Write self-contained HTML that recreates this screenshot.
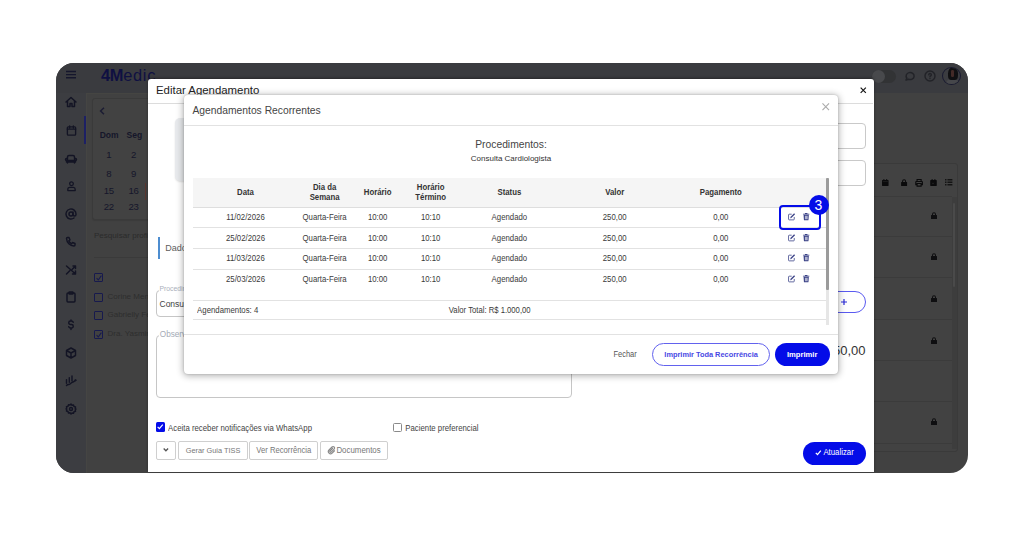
<!DOCTYPE html>
<html><head><meta charset="utf-8">
<style>
*{box-sizing:border-box;margin:0;padding:0}
html,body{width:1024px;height:537px;overflow:hidden;background:#fff}
body{position:relative;font-family:"Liberation Sans",sans-serif;color:#333}
.a{position:absolute}
.t{position:absolute;white-space:nowrap;line-height:1}
.c{transform:translateX(-50%)}
svg{position:absolute;overflow:visible}
#frame{left:56px;top:63px;width:912px;height:409.5px;border-radius:18px;overflow:hidden;background:#414141}
#hdr{left:0;top:0;width:912px;height:30px;background:#3a3b3f}
#side{left:0;top:30px;width:29.5px;height:380px;background:#3c3d41}
.ic{stroke:#131424;fill:none;stroke-width:2.9;stroke-linecap:round;stroke-linejoin:round}
#modal{left:92px;top:16px;width:726.5px;height:420px;background:#fff;border-radius:3px}
#dlg{left:184px;top:94.5px;width:654px;height:279px;background:#fff;border-radius:4px;box-shadow:0 1px 7px 1px rgba(0,0,0,.3),0 0 2px rgba(0,0,0,.2)}
.hl{position:absolute;height:1px;background:#e2e2e2}
.th{font-weight:bold;font-size:7.8px;color:#333}
.td{font-size:7.8px;color:#3a3a3a;transform:scaleY(1.09)}
.c.td,.c.th{transform:translateX(-50%) scaleY(1.09)}
.th{transform:scaleY(1.09)}
.sy{transform:scaleY(1.1)}
.c.sy{transform:translateX(-50%) scaleY(1.1)}
.dk{color:#15162a}
.cb{position:absolute;width:9.3px;height:9.3px;border:1.2px solid #171a4e;border-radius:1px}
.lk{position:absolute;width:7px;height:7px}
</style></head><body>

<svg width="0" height="0" style="position:absolute"><defs>
<g id="ed"><path d="M8 2.5H2.7A1.5 1.5 0 0 0 1.2 4v9.3a1.5 1.5 0 0 0 1.5 1.5H12a1.5 1.5 0 0 0 1.5-1.5V8.5" fill="none" stroke="#3b4287" stroke-width="1.7"/><path d="M6.2 9.8L14.3 1.7" stroke="#3b4287" stroke-width="2.8"/><path d="M4.6 11.4l.9-2.6 1.7 1.7z" fill="#3b4287"/></g>
<g id="tr" fill="#3b4287"><path d="M4.5 0h5l.5 1.5H13.5a.5.5 0 0 1 0 1.5H.5a.5.5 0 0 1 0-1.5H4z"/><path d="M1.2 4h11.6l-.8 11a1.2 1.2 0 0 1-1.2 1H3.2A1.2 1.2 0 0 1 2 15zM4.3 6v7.5h1.2V6zM6.4 6v7.5h1.2V6zM8.5 6v7.5h1.2V6z" fill-rule="evenodd"/></g>
</defs></svg>
<div id="frame" class="a">
  <div id="hdr" class="a">
    <!-- hamburger -->
    <svg style="left:9px;top:5.2px" width="12" height="12" viewBox="0 0 12 12"><path d="M1 3.5H11M1 6.6H11M1 9.7H11" stroke="#15162c" stroke-width="1.4"/></svg>
    <div class="t" style="left:45px;top:3.6px;font-size:16.4px;color:#0f1042;letter-spacing:0.7px"><b style="letter-spacing:-0.3px">4M</b>edic</div>
    <!-- toggle -->
    <div class="a" style="left:816px;top:7px;width:24px;height:13px;border-radius:7px;background:#323335"></div>
    <div class="a" style="left:816px;top:7px;width:13px;height:13px;border-radius:50%;background:#48494c"></div>
    <!-- chat -->
    <svg style="left:848px;top:7px" width="12" height="12" viewBox="0 0 24 24"><path class="ic" style="stroke:#222328" d="M4 20l1.6-4A8 7 0 1 1 9 18.5z"/></svg>
    <!-- help -->
    <svg style="left:867.5px;top:7px" width="12" height="12" viewBox="0 0 24 24"><circle class="ic" style="stroke:#222328" cx="12" cy="12" r="10"/><path class="ic" style="stroke:#222328" d="M9.5 9.5a2.6 2.6 0 1 1 3.5 2.4c-.7.3-1 .8-1 1.6M12 17v.2"/></svg>
    <!-- avatar -->
    <div class="a" style="left:886.2px;top:3.7px;width:19px;height:18.4px;border-radius:50%;border:1px solid #191a30;background:#3b3c40;overflow:hidden">
      <div class="a" style="left:2.5px;top:11.5px;width:13px;height:8px;border-radius:5px 5px 0 0;background:#46474b"></div>
      <div class="a" style="left:5px;top:-0.5px;width:9.6px;height:13px;border-radius:50% 50% 35% 35%;background:#101012"></div>
      <div class="a" style="left:8.2px;top:2.6px;width:2.6px;height:7px;border-radius:1.3px;background:#432a27"></div>
    </div>
  </div>
  <div class="a" style="left:29.5px;top:30px;width:1.2px;height:380px;background:#454543"></div>
  <div class="a" style="left:29.5px;top:30px;width:63px;height:1px;background:#454542"></div>
  <div id="side" class="a">
    <div class="a" style="left:28px;top:23px;width:2px;height:28px;background:#1d2065"></div>
  </div>
  <!-- sidebar icons (positions relative to frame) -->
  <svg style="left:9px;top:33px" width="12" height="12" viewBox="0 0 24 24"><path class="ic" d="M2 12L12 3l10 9M5 10v11h5v-6h4v6h5V10"/></svg>
  <svg style="left:9.5px;top:62px" width="11" height="11" viewBox="0 0 24 24"><rect class="ic" x="3" y="4" width="18" height="18" rx="2"/><path class="ic" d="M3 9h18M8 2v4M16 2v4"/></svg>
  <svg style="left:9px;top:89.5px" width="12" height="12" viewBox="0 0 24 24"><path class="ic" d="M5 11V8a3 3 0 0 1 3-3h8a3 3 0 0 1 3 3v3M3 11a2 2 0 0 1 2 2v2h14v-2a2 2 0 1 1 2 2v3H3v-3a2 2 0 0 1 0-4zM5 18v2M19 18v2"/></svg>
  <svg style="left:9.5px;top:117px" width="11" height="12" viewBox="0 0 24 24"><circle class="ic" cx="12" cy="7" r="4"/><path class="ic" d="M4 22v-3a4 4 0 0 1 4-4h8a4 4 0 0 1 4 4v3z"/></svg>
  <svg style="left:9px;top:144.5px" width="12" height="12" viewBox="0 0 24 24"><circle class="ic" cx="12" cy="12" r="4"/><path class="ic" d="M16 8v5a3 3 0 0 0 6 0v-1a10 10 0 1 0-4 8"/></svg>
  <svg style="left:9px;top:173px" width="12" height="12" viewBox="0 0 24 24"><path class="ic" d="M5 3h3l2 5-2.5 1.5a11 11 0 0 0 6 6L15 13l5 2v3a2 2 0 0 1-2 2A16 16 0 0 1 3 5a2 2 0 0 1 2-2"/></svg>
  <svg style="left:9px;top:200.5px" width="12" height="12" viewBox="0 0 24 24"><path class="ic" d="M3 4l18 16M21 20v-6M21 20h-6M3 20L9.5 13.5M14.5 10.5L21 4M21 4h-5M21 4v5"/></svg>
  <svg style="left:9px;top:228px" width="12" height="12" viewBox="0 0 24 24"><rect class="ic" x="4" y="4" width="16" height="18" rx="2"/><rect class="ic" x="8" y="2" width="8" height="4" rx="1"/></svg>
  <svg style="left:9px;top:255.5px" width="12" height="12" viewBox="0 0 24 24"><path class="ic" d="M16.5 6.5A4 3.5 0 0 0 12.5 4h-1.5a3.5 3.5 0 0 0 0 7h2a3.5 3.5 0 0 1 0 7h-1.5a4 3.5 0 0 1-4-2.5M12 2v2M12 18v3"/></svg>
  <svg style="left:9px;top:283.5px" width="12" height="12" viewBox="0 0 24 24"><path class="ic" d="M12 2l9 5v10l-9 5-9-5V7zM3 7l9 5 9-5M12 12v10"/></svg>
  <svg style="left:9px;top:312px" width="12" height="12" viewBox="0 0 24 24"><path class="ic" d="M3 9.5v7M8.6 5.5v9M14 2v9.5M3 21c3-3 4.5-1 7-3s3.5-3.5 6-4 3.5-2.5 5.5-3.5"/><circle cx="21" cy="10.5" r="2" fill="#141526"/></svg>
  <svg style="left:9px;top:339.5px" width="12" height="12" viewBox="0 0 24 24"><circle class="ic" cx="12" cy="12" r="3"/><path class="ic" d="M12 2l2 2.5 3-.5 1 3 3 1-.5 3L22 12l-1.5 1.5.5 3-3 1-1 3-3-.5L12 22l-2-2.5-3 .5-1-3-3-1 .5-3L2 12l1.5-1.5-.5-3 3-1 1-3 3 .5z"/></svg>

  <!-- calendar card -->
  <div class="a" style="left:35.6px;top:35.3px;width:71px;height:122px;background:#424242;border:1px solid #3a3a3a;border-radius:3px;box-shadow:0 1px 1px rgba(0,0,0,.1)"></div>
  <svg style="left:43px;top:43.5px" width="7" height="8" viewBox="0 0 7 8"><path d="M5 .8L1.6 4 5 7.2" stroke="#1b1c33" stroke-width="1.5" fill="none"/></svg>
  <div class="t dk" style="left:43.7px;top:67.5px;font-size:8.5px;font-weight:bold">Dom</div>
  <div class="t dk" style="left:70.6px;top:67.5px;font-size:8.5px;font-weight:bold">Seg</div>
  <div class="t dk c" style="left:52.7px;top:87.4px;font-size:9.6px;letter-spacing:-0.3px">1</div>
  <div class="t dk c" style="left:77.5px;top:87.4px;font-size:9.6px;letter-spacing:-0.3px">2</div>
  <div class="t dk c" style="left:52.7px;top:105.8px;font-size:9.6px;letter-spacing:-0.3px">8</div>
  <div class="t dk c" style="left:77.5px;top:105.8px;font-size:9.6px;letter-spacing:-0.3px">9</div>
  <div class="t dk c" style="left:52.7px;top:122.5px;font-size:9.6px;letter-spacing:-0.3px">15</div>
  <div class="t dk c" style="left:77.5px;top:122.5px;font-size:9.6px;letter-spacing:-0.3px">16</div>
  <div class="t dk c" style="left:52.7px;top:139.2px;font-size:9.6px;letter-spacing:-0.3px">22</div>
  <div class="t dk c" style="left:77.5px;top:139.2px;font-size:9.6px;letter-spacing:-0.3px">23</div>
  <div class="a" style="left:88.5px;top:120px;width:1.2px;height:17px;background:#5a3630"></div>
  <!-- search & list -->
  <div class="t" style="left:37.9px;top:169.2px;font-size:8.1px;color:#2b2b2b">Pesquisar profissional</div>
  <div class="a" style="left:37.5px;top:193.7px;width:60px;height:1px;background:#3a3a3a"></div>
  <div class="cb" style="left:37.5px;top:210px"></div>
  <svg style="left:39.5px;top:212px" width="6" height="6" viewBox="0 0 6 6"><path d="M.6 3.2L2.3 5 5.4.6" stroke="#171a4e" stroke-width="1.1" fill="none"/></svg>
  <div class="cb" style="left:37.5px;top:229.5px"></div>
  <div class="t" style="left:51.5px;top:229.5px;font-size:8px;color:#2e2e2e">Corine Mendes</div>
  <div class="cb" style="left:37.5px;top:248px"></div>
  <div class="t" style="left:51.5px;top:248px;font-size:8px;color:#2e2e2e">Gabrielly Ferreira</div>
  <div class="cb" style="left:37.5px;top:266.5px"></div>
  <svg style="left:39.5px;top:268.5px" width="6" height="6" viewBox="0 0 6 6"><path d="M.6 3.2L2.3 5 5.4.6" stroke="#171a4e" stroke-width="1.1" fill="none"/></svg>
  <div class="t" style="left:51.5px;top:266.5px;font-size:8px;color:#2e2e2e">Dra. Yasmin</div>

  <!-- right background card -->
  <div class="a" style="left:814px;top:99.5px;width:88px;height:289px;border:1px solid #3a3a3a;border-radius:3px;background:#424242"></div>
  <div class="a" style="left:814px;top:132.5px;width:82px;height:1px;background:#3b3b3b"></div>
  <div class="a" style="left:814px;top:173.3px;width:82px;height:1px;background:#3b3b3b"></div>
  <div class="a" style="left:814px;top:214.3px;width:82px;height:1px;background:#3b3b3b"></div>
  <div class="a" style="left:814px;top:256px;width:82px;height:1px;background:#3b3b3b"></div>
  <div class="a" style="left:814px;top:297.3px;width:82px;height:1px;background:#3b3b3b"></div>
  <div class="a" style="left:814px;top:338.3px;width:82px;height:1px;background:#3b3b3b"></div>
  <div class="a" style="left:814px;top:379.5px;width:82px;height:1px;background:#3b3b3b"></div>
  <!-- right toolbar icons -->
  <svg style="left:825.7px;top:116px" width="6.6" height="7" viewBox="0 0 14 15"><path fill="#0a0a0b" d="M3 0h2v2h4V0h2v2h2a1 1 0 0 1 1 1v11a1 1 0 0 1-1 1H1a1 1 0 0 1-1-1V3a1 1 0 0 1 1-1h2z"/><path fill="#2a2a2a" d="M1.5 5h11v.8h-11z"/></svg>
  <svg style="left:845px;top:116px" width="6.2" height="7" viewBox="0 0 12 14"><path fill="#0a0a0b" d="M2 6V4.5a4 4 0 0 1 8 0V6h-2V4.5a2 2 0 0 0-4 0V6zM1 6h10a1 1 0 0 1 1 1v6a1 1 0 0 1-1 1H1a1 1 0 0 1-1-1V7a1 1 0 0 1 1-1z"/></svg>
  <svg style="left:858.6px;top:115.7px" width="8.2" height="7.6" viewBox="0 0 16 15"><path fill="none" stroke="#0a0a0b" stroke-width="2.2" d="M4 5V1h8v4M4 11H1.5V6a1 1 0 0 1 1-1h11a1 1 0 0 1 1 1v5H12M4 9h8v5H4z"/></svg>
  <svg style="left:873.7px;top:116px" width="7" height="7" viewBox="0 0 14 15"><path fill="#0a0a0b" d="M3 0h2v2h4V0h2v2h2a1 1 0 0 1 1 1v11a1 1 0 0 1-1 1H1a1 1 0 0 1-1-1V3a1 1 0 0 1 1-1h2z"/><path stroke="#333" stroke-width="1.2" d="M4.5 8l3 3M7.5 8l-3 3"/></svg>
  <svg style="left:889.3px;top:116.3px" width="7.4" height="6.4" viewBox="0 0 15 13"><path fill="#141414" d="M0 0h3v3H0zM5 0h10v3H5zM0 5h3v3H0zM5 5h10v3H5zM0 10h3v3H0zM5 10h10v3H5z"/></svg>
  <!-- locks -->
  <svg style="left:874.5px;top:148.8px" width="6" height="7" viewBox="0 0 12 14"><path fill="#0e0e10" d="M2 6V4.5a4 4 0 0 1 8 0V6h-2V4.5a2 2 0 0 0-4 0V6zM1 6h10a1 1 0 0 1 1 1v6a1 1 0 0 1-1 1H1a1 1 0 0 1-1-1V7a1 1 0 0 1 1-1z"/></svg>
  <svg style="left:874.5px;top:190.0px" width="6" height="7" viewBox="0 0 12 14"><path fill="#0e0e10" d="M2 6V4.5a4 4 0 0 1 8 0V6h-2V4.5a2 2 0 0 0-4 0V6zM1 6h10a1 1 0 0 1 1 1v6a1 1 0 0 1-1 1H1a1 1 0 0 1-1-1V7a1 1 0 0 1 1-1z"/></svg>
  <svg style="left:874.5px;top:231.7px" width="6" height="7" viewBox="0 0 12 14"><path fill="#0e0e10" d="M2 6V4.5a4 4 0 0 1 8 0V6h-2V4.5a2 2 0 0 0-4 0V6zM1 6h10a1 1 0 0 1 1 1v6a1 1 0 0 1-1 1H1a1 1 0 0 1-1-1V7a1 1 0 0 1 1-1z"/></svg>
  <svg style="left:874.5px;top:273.7px" width="6" height="7" viewBox="0 0 12 14"><path fill="#0e0e10" d="M2 6V4.5a4 4 0 0 1 8 0V6h-2V4.5a2 2 0 0 0-4 0V6zM1 6h10a1 1 0 0 1 1 1v6a1 1 0 0 1-1 1H1a1 1 0 0 1-1-1V7a1 1 0 0 1 1-1z"/></svg>
  <svg style="left:874.5px;top:354.9px" width="6" height="7" viewBox="0 0 12 14"><path fill="#0e0e10" d="M2 6V4.5a4 4 0 0 1 8 0V6h-2V4.5a2 2 0 0 0-4 0V6zM1 6h10a1 1 0 0 1 1 1v6a1 1 0 0 1-1 1H1a1 1 0 0 1-1-1V7a1 1 0 0 1 1-1z"/></svg>
  <!-- scrollbar -->
  <div class="a" style="left:895.5px;top:134px;width:5px;height:252px;background:#3d3d3d"></div>
  <div class="a" style="left:896.8px;top:140px;width:2.5px;height:84px;background:#4a4a4a;border-radius:1px"></div>
</div>

<div id="modal" class="a" style="left:148px;top:79px;width:726px;height:393px;border-radius:3px 3px 0 0;box-shadow:0 -1px 3px rgba(0,0,0,.35)">
  <div class="t" style="left:8px;top:5.8px;font-size:11.4px;color:#222">Editar Agendamento</div>
  <svg style="left:711.5px;top:8px" width="6.5" height="6.5" viewBox="0 0 8 8"><path d="M.8 .8l6.4 6.4M7.2 .8L.8 7.2" stroke="#151515" stroke-width="1.45"/></svg>
  <div class="hl" style="left:0;top:24px;width:725px;background:#dcdcdc"></div>
  <!-- patient card -->
  <div class="a" style="left:27.3px;top:39.2px;width:120px;height:63px;background:#e8eaed;border-radius:5px;box-shadow:0 1px 2px rgba(0,0,0,.12)"></div>
  <!-- right inputs -->
  <div class="a" style="left:600px;top:43.7px;width:117.8px;height:26.1px;border:1px solid #c9c9c9;border-radius:4px"></div>
  <div class="a" style="left:600px;top:81px;width:117.8px;height:26.2px;border:1px solid #c9c9c9;border-radius:4px"></div>
  <!-- Dados tab -->
  <div class="a" style="left:9.8px;top:158px;width:2px;height:21.5px;background:#4d8dd0"></div>
  <div class="t" style="left:17.2px;top:165.4px;font-size:9px;color:#5e5e5e">Dados do Agendamento</div>
  <!-- procedimento fieldset -->
  <div class="a" style="left:7.6px;top:210.6px;width:420px;height:27.4px;border:1px solid #c6c6c6;border-radius:4px"></div>
  <div class="t" style="left:10.5px;top:207.2px;font-size:6.8px;color:#aab0bb;background:#fff;padding:0 1px">Procedimento</div>
  <div class="t sy" style="left:11.5px;top:220.6px;font-size:8.5px;color:#444">Consulta Cardiologista</div>
  <div class="a" style="left:640px;top:211.8px;width:78.2px;height:22.7px;border:1.2px solid #5a5af0;border-radius:12px"></div>
  <svg style="left:692.5px;top:220.1px" width="6" height="6" viewBox="0 0 6 6"><path d="M3 0v6M0 3h6" stroke="#2a2ad8" stroke-width="1.2"/></svg>
  <!-- valor -->
  <div class="t" style="right:8.5px;top:264.8px;font-size:13px;color:#333">250,00</div>
  <!-- observacoes -->
  <div class="a" style="left:7.5px;top:256px;width:416px;height:63px;border:1px solid #c6c6c6;border-radius:4px"></div>
  <div class="t" style="left:10.8px;top:251.7px;font-size:8.2px;color:#a4abb6;background:#fff;padding:0 1px">Observações</div>
  <!-- checkboxes -->
  <div class="a" style="left:7.8px;top:343.4px;width:9.2px;height:9.2px;background:#040ce8;border-radius:1.5px"></div>
  <svg style="left:9.3px;top:345.3px" width="6.4" height="5.6" viewBox="0 0 8 7"><path d="M.8 3.6L3 5.8 7.2 .9" stroke="#fff" stroke-width="1.5" fill="none"/></svg>
  <div class="t sy" style="left:20.1px;top:345.8px;font-size:7.8px;color:#444">Aceita receber notificações via WhatsApp</div>
  <div class="a" style="left:244.6px;top:343.8px;width:9.2px;height:9px;border:1px solid #8a8a8a;border-radius:1.5px"></div>
  <div class="t sy" style="left:257.3px;top:345.8px;font-size:7.8px;color:#444">Paciente preferencial</div>
  <!-- buttons -->
  <div class="a" style="left:8px;top:362.4px;width:20.4px;height:18.4px;border:1px solid #cfcfcf;border-radius:2px"></div>
  <svg style="left:15px;top:369.3px" width="5.8" height="3.7" viewBox="0 0 6 4"><path d="M.6 .6L3 3 5.4 .6" stroke="#555" stroke-width="1.4" fill="none"/></svg>
  <div class="a" style="left:30px;top:362.4px;width:69.5px;height:18.4px;border:1px solid #cfcfcf;border-radius:2px"></div>
  <div class="t c sy" style="left:65px;top:367.6px;font-size:7.35px;color:#777">Gerar Guia TISS</div>
  <div class="a" style="left:101px;top:362.4px;width:69.4px;height:18.4px;border:1px solid #cfcfcf;border-radius:2px"></div>
  <div class="t c sy" style="left:135.8px;top:367.6px;font-size:7.7px;color:#777">Ver Recorrência</div>
  <div class="a" style="left:172.4px;top:362.4px;width:67.3px;height:18.4px;border:1px solid #cfcfcf;border-radius:2px"></div>
  <svg style="left:179.7px;top:367.4px" width="6" height="8" viewBox="0 0 12 16"><path d="M9.5 4.5L4 10a1.6 1.6 0 0 0 2.3 2.3l6-6a3 3 0 0 0-4.3-4.3L2 8a4.4 4.4 0 0 0 6.3 6.3L13 9.5" stroke="#888" stroke-width="2.2" fill="none" stroke-linecap="round"/></svg>
  <div class="t sy" style="left:188.4px;top:367.6px;font-size:7.9px;color:#777">Documentos</div>
  <!-- atualizar -->
  <div class="a" style="left:654.7px;top:362.7px;width:63.6px;height:22.9px;background:#040ce8;border-radius:12px"></div>
  <svg style="left:666.6px;top:371px" width="6.6" height="5.5" viewBox="0 0 8 7"><path d="M.8 3.6L3 5.8 7.2 .9" stroke="#fff" stroke-width="1.6" fill="none"/></svg>
  <div class="t sy" style="left:675.4px;top:370.2px;font-size:7.8px;color:#fff">Atualizar</div>
</div>

<div id="dlg" class="a">
  <div class="t" style="left:8.5px;top:11.3px;font-size:10.3px;color:#444">Agendamentos Recorrentes</div>
  <svg style="left:638px;top:8.8px" width="7.5" height="7.5" viewBox="0 0 8 8"><path d="M.5 .5l7 7M7.5 .5l-7 7" stroke="#ababab" stroke-width="1.2"/></svg>
  <div class="hl" style="left:0;top:30.5px;width:654px"></div>
  <div class="t c" style="left:327px;top:45.7px;font-size:10.3px;color:#444">Procedimentos:</div>
  <div class="t c" style="left:327px;top:60px;font-size:8px;color:#333">Consulta Cardiologista</div>
  <!-- table -->
  <div class="a" style="left:9.2px;top:83.5px;width:632.7px;height:29.1px;background:#f5f5f5"></div>
  <div class="hl" style="left:9.2px;top:112.2px;width:632.7px;background:#dedede"></div>
  <div class="hl" style="left:9.2px;top:132.4px;width:632.7px"></div>
  <div class="hl" style="left:9.2px;top:153.6px;width:632.7px"></div>
  <div class="hl" style="left:9.2px;top:174.5px;width:632.7px"></div>
  <div class="hl" style="left:9.2px;top:205.4px;width:632.7px"></div>
  <div class="hl" style="left:9.2px;top:224.5px;width:632.7px"></div>
  <div class="t c th" style="left:61.5px;top:94.4px">Data</div>
  <div class="t c th" style="left:140.6px;top:89.1px">Dia da</div>
  <div class="t c th" style="left:140.6px;top:99.8px">Semana</div>
  <div class="t c th" style="left:193.7px;top:94.4px">Horário</div>
  <div class="t c th" style="left:246.7px;top:89.1px">Horário</div>
  <div class="t c th" style="left:246.7px;top:99.8px">Término</div>
  <div class="t c th" style="left:325.4px;top:94.4px">Status</div>
  <div class="t c th" style="left:430.7px;top:94.4px">Valor</div>
  <div class="t c th" style="left:536.8px;top:94.4px">Pagamento</div>
  <div class="t c td" style="left:61.5px;top:119.7px">11/02/2026</div>
  <div class="t c td" style="left:140.6px;top:119.7px">Quarta-Feira</div>
  <div class="t c td" style="left:193.7px;top:119.7px">10:00</div>
  <div class="t c td" style="left:246.7px;top:119.7px">10:10</div>
  <div class="t c td" style="left:325.4px;top:119.7px">Agendado</div>
  <div class="t c td" style="left:430.7px;top:119.7px">250,00</div>
  <div class="t c td" style="left:536.8px;top:119.7px">0,00</div>
  <svg style="left:604.2px;top:118.4px" width="7.4" height="7" viewBox="0 0 16 15"><use href="#ed"/></svg>
  <svg style="left:618.9px;top:118.2px" width="6.4" height="7.4" viewBox="0 0 14 16"><use href="#tr"/></svg>
  <div class="t c td" style="left:61.5px;top:140.7px">25/02/2026</div>
  <div class="t c td" style="left:140.6px;top:140.7px">Quarta-Feira</div>
  <div class="t c td" style="left:193.7px;top:140.7px">10:00</div>
  <div class="t c td" style="left:246.7px;top:140.7px">10:10</div>
  <div class="t c td" style="left:325.4px;top:140.7px">Agendado</div>
  <div class="t c td" style="left:430.7px;top:140.7px">250,00</div>
  <div class="t c td" style="left:536.8px;top:140.7px">0,00</div>
  <svg style="left:604.2px;top:139.4px" width="7.4" height="7" viewBox="0 0 16 15"><use href="#ed"/></svg>
  <svg style="left:618.9px;top:139.2px" width="6.4" height="7.4" viewBox="0 0 14 16"><use href="#tr"/></svg>
  <div class="t c td" style="left:61.5px;top:160.6px">11/03/2026</div>
  <div class="t c td" style="left:140.6px;top:160.6px">Quarta-Feira</div>
  <div class="t c td" style="left:193.7px;top:160.6px">10:00</div>
  <div class="t c td" style="left:246.7px;top:160.6px">10:10</div>
  <div class="t c td" style="left:325.4px;top:160.6px">Agendado</div>
  <div class="t c td" style="left:430.7px;top:160.6px">250,00</div>
  <div class="t c td" style="left:536.8px;top:160.6px">0,00</div>
  <svg style="left:604.2px;top:159.9px" width="7.4" height="7" viewBox="0 0 16 15"><use href="#ed"/></svg>
  <svg style="left:618.9px;top:159.7px" width="6.4" height="7.4" viewBox="0 0 14 16"><use href="#tr"/></svg>
  <div class="t c td" style="left:61.5px;top:181.7px">25/03/2026</div>
  <div class="t c td" style="left:140.6px;top:181.7px">Quarta-Feira</div>
  <div class="t c td" style="left:193.7px;top:181.7px">10:00</div>
  <div class="t c td" style="left:246.7px;top:181.7px">10:10</div>
  <div class="t c td" style="left:325.4px;top:181.7px">Agendado</div>
  <div class="t c td" style="left:430.7px;top:181.7px">250,00</div>
  <div class="t c td" style="left:536.8px;top:181.7px">0,00</div>
  <svg style="left:604.2px;top:180.4px" width="7.4" height="7" viewBox="0 0 16 15"><use href="#ed"/></svg>
  <svg style="left:618.9px;top:180.2px" width="6.4" height="7.4" viewBox="0 0 14 16"><use href="#tr"/></svg>
  <div class="t td" style="left:13.1px;top:212.1px">Agendamentos: 4</div>
  <div class="t td" style="left:264.8px;top:212.1px;font-size:7.7px">Valor Total: R$ 1.000,00</div>
  <!-- scrollbar -->
  <div class="a" style="left:642.3px;top:83px;width:2.6px;height:147.5px;background:#e6e6e6"></div>
  <div class="a" style="left:642.3px;top:83px;width:2.6px;height:112.5px;background:#9b9b9b;border-radius:1px"></div>
  <!-- highlight -->
  <div class="a" style="left:594.8px;top:110.9px;width:41.9px;height:24.2px;border:2.3px solid #040ce8;border-radius:4px"></div>
  <div class="a" style="left:624.5px;top:100.5px;width:20px;height:20px;border-radius:50%;background:#040ce8"></div>
  <div class="t c" style="left:634.5px;top:103.5px;font-size:14px;color:#fff">3</div>
  <!-- footer -->
  <div class="hl" style="left:0;top:239.6px;width:654px"></div>
  <div class="t sy" style="left:429.4px;top:256.6px;font-size:7.5px;color:#555">Fechar</div>
  <div class="a" style="left:468px;top:248.7px;width:118.2px;height:22.5px;border:1.5px solid #6262ee;border-radius:12px"></div>
  <div class="t c" style="left:527.1px;top:256px;font-size:7.4px;font-weight:bold;color:#4848e4">Imprimir Toda Recorrência</div>
  <div class="a" style="left:591px;top:248.7px;width:54.5px;height:22.5px;background:#040ce8;border-radius:12px"></div>
  <div class="t c" style="left:618.2px;top:256px;font-size:7.6px;font-weight:bold;color:#fff">Imprimir</div>
</div>

</body></html>
